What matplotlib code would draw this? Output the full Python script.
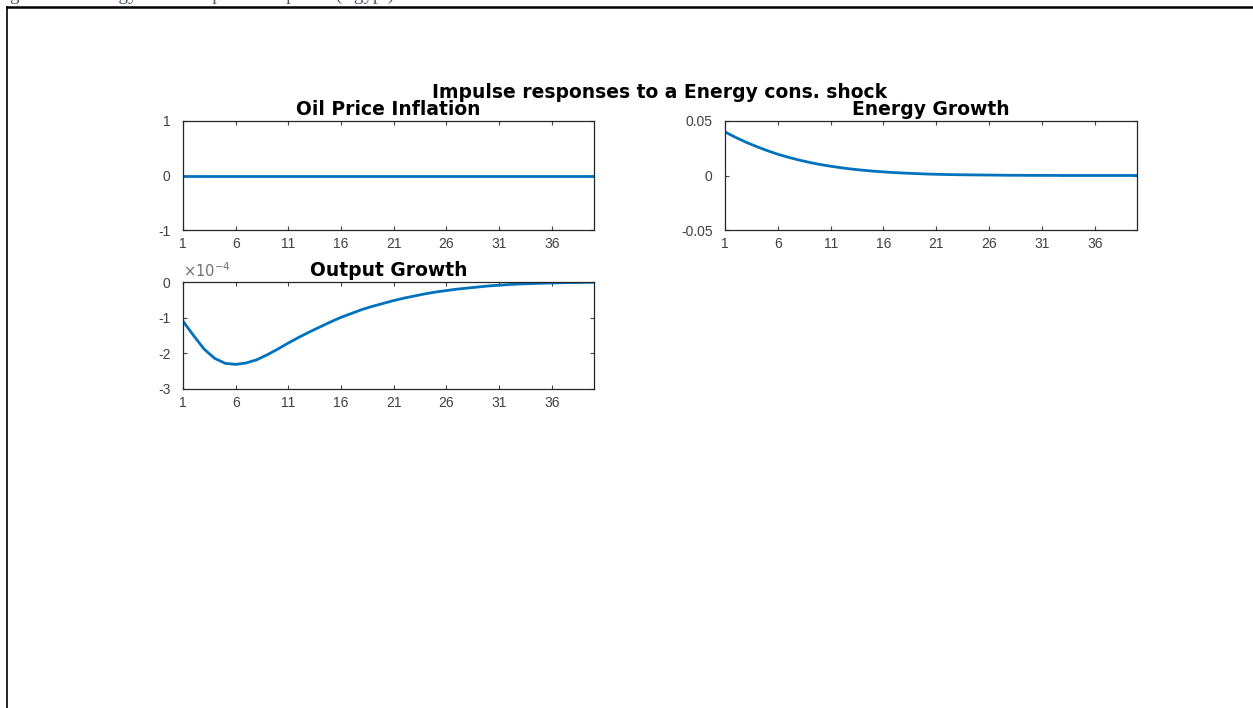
import numpy as np
import matplotlib
matplotlib.use("Agg")
import matplotlib.pyplot as plt
from matplotlib.lines import Line2D
from matplotlib.ticker import FuncFormatter

# ---- data (horizon 1..40) ----
horizon = np.arange(1, 41)
oil_price_inflation = [0.0] * 40
energy_growth = [0.0400, 0.0350, 0.0305, 0.0265, 0.0228, 0.0195, 0.0167, 0.0142,
                 0.0120, 0.0101, 0.0085, 0.0071, 0.0059, 0.0049, 0.0040, 0.0033,
                 0.0027, 0.0022, 0.0018, 0.0014, 0.0011, 0.0009, 0.0007, 0.0006,
                 0.0005, 0.0004, 0.0003, 0.0002, 0.0002, 0.0001, 0.0001, 0.0001,
                 0.0000, 0.0000, 0.0000, 0.0000, 0.0000, 0.0000, 0.0000, 0.0000]
# output growth in units of 1e-4 (axis shows "x10^-4")
output_growth = [-1.10, -1.50, -1.88, -2.14, -2.28, -2.31, -2.27, -2.18, -2.04, -1.88,
                 -1.71, -1.55, -1.40, -1.26, -1.12, -0.99, -0.88, -0.77, -0.68, -0.60,
                 -0.52, -0.45, -0.39, -0.33, -0.28, -0.24, -0.20, -0.17, -0.14, -0.11,
                 -0.09, -0.07, -0.055, -0.045, -0.035, -0.027, -0.02, -0.015, -0.01, -0.006]
xtick_vals = [1, 6, 11, 16, 21, 26, 31, 36]

caption = "Figure 4.6: Energy Cons. Impulse Response (Egypt)"
suptitle = "Impulse responses to a Energy cons. shock"
titles = ["Oil Price Inflation", "Energy Growth", "Output Growth"]

W, H = 1253, 708
LINE_COLOR = "#0072BD"
TICK_COLOR = "#404040"
plt.rcParams["font.family"] = ["Liberation Sans", "DejaVu Sans"]
plt.rcParams["axes.unicode_minus"] = False

fig = plt.figure(figsize=(W / 100, H / 100), dpi=100)


def px_axes(left, top, right, bottom):
    return fig.add_axes([left / W, 1 - bottom / H, (right - left) / W, (bottom - top) / H])


def style(ax, title):
    ax.set_xlim(1, 40)
    ax.set_xticks(xtick_vals)
    ax.yaxis.set_major_formatter(FuncFormatter(lambda v, p: f"{v:g}"))
    ax.tick_params(direction="in", length=3, width=0.8, top=True, right=True,
                   labelsize=10, colors=TICK_COLOR)
    ax.tick_params(axis="y", pad=9)
    ax.tick_params(axis="x", pad=5)
    for s in ax.spines.values():
        s.set_color("#262626")
        s.set_linewidth(0.9)
    ax.set_title(title, fontsize=13.5, fontweight="bold", family="DejaVu Sans", pad=4)


ax1 = px_axes(183, 121, 594, 230)
ax1.plot(horizon, oil_price_inflation, color=LINE_COLOR, lw=2)
ax1.set_ylim(-1, 1)
ax1.set_yticks([-1, 0, 1])
style(ax1, titles[0])

ax2 = px_axes(725, 121, 1137, 230)
ax2.plot(horizon, energy_growth, color=LINE_COLOR, lw=2)
ax2.set_ylim(-0.05, 0.05)
ax2.set_yticks([-0.05, 0, 0.05])
style(ax2, titles[1])

ax3 = px_axes(183, 282, 594, 389)
ax3.plot(horizon, output_growth, color=LINE_COLOR, lw=2)
ax3.set_ylim(-3, 0)
ax3.set_yticks([-3, -2, -1, 0])
style(ax3, titles[2])
ax3.text(0.0, 1.02, r"$\times10^{-4}$", transform=ax3.transAxes, ha="left",
         va="bottom", fontsize=10.5, color="#707070")

fig.text(660 / W, 1 - 93 / H, suptitle, ha="center", va="center",
         fontsize=13.5, fontweight="bold", family="DejaVu Sans")

# page border and clipped caption (only its lower edge shows, as in the source page)
fig.add_artist(Line2D([7 / W, 1], [1 - 7 / H, 1 - 7 / H], color="black", lw=1.8,
                      transform=fig.transFigure))
fig.add_artist(Line2D([7 / W, 7 / W], [0, 1 - 7 / H], color="black", lw=1.2,
                      transform=fig.transFigure))
fig.text(-6 / W, 1 + 0.5 / H, caption, ha="left", va="baseline", fontsize=13.8,
         family="Liberation Serif", color="#44546A")

fig.savefig("out.png", dpi=100)
